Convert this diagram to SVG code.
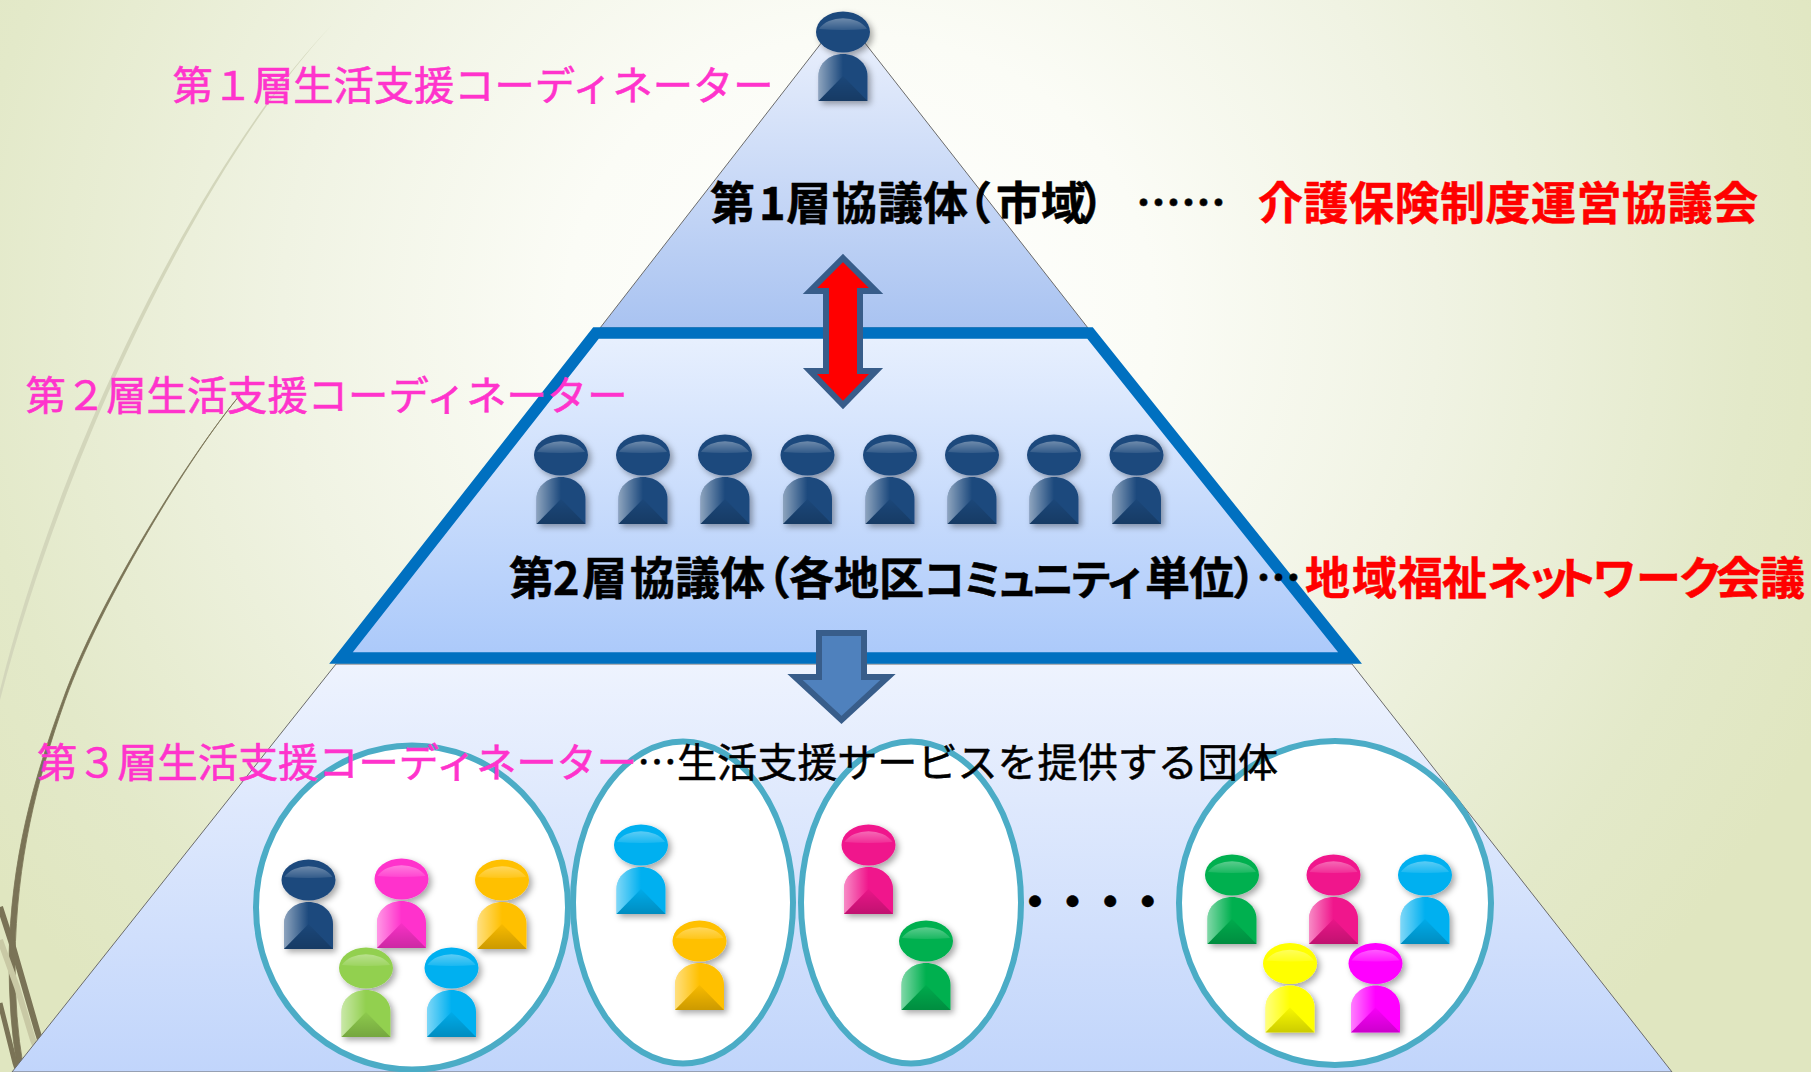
<svg xmlns="http://www.w3.org/2000/svg" width="1811" height="1072" viewBox="0 0 1811 1072">
<style>
.t{font-family:"Noto Sans CJK JP","Noto Sans CJK SC",sans-serif;font-size:40px}
.pk{fill:#ff33cc;stroke:#ff33cc;stroke-width:.6}
.bk{fill:#000}
.th{stroke:#000;stroke-width:.5}
.b{font-weight:700;font-size:45px;stroke-width:.5}
.b.bk{stroke:#000}
.b.rd{stroke:#ff0000}
.kana{font-size:42px}
.rd{fill:#ff0000}
.oval{fill:#fff;stroke:#4bacc6;stroke-width:6}
.arrow{stroke:#385d8a;stroke-width:6;stroke-linejoin:miter;stroke-miterlimit:8}
.navy{color:#1f497d}.mag{color:#ff33cc}.gold{color:#ffc000}.lime{color:#92d050}.cyan{color:#00b0f0}.pink{color:#f0148c}.green{color:#00b050}.yel{color:#ffff00}.fuch{color:#ff00ff}
</style>
<defs>
<radialGradient id="bg" gradientUnits="userSpaceOnUse" cx="860" cy="300" r="1050" gradientTransform="translate(0 30) scale(1 .95)">
<stop offset="0" stop-color="#ffffff"/><stop offset=".28" stop-color="#fbfcf6"/><stop offset=".55" stop-color="#f0f3e3"/><stop offset=".85" stop-color="#e3e9c9"/><stop offset="1" stop-color="#e0e6c0"/>
</radialGradient>
<linearGradient id="g1" x1="0" y1="0" x2="0" y2="1"><stop offset="0" stop-color="#edf2fd"/><stop offset="1" stop-color="#a9c3f1"/></linearGradient>
<linearGradient id="g2" x1="0" y1="0" x2="0" y2="1"><stop offset="0" stop-color="#e8f0fe"/><stop offset="1" stop-color="#abc9fa"/></linearGradient>
<linearGradient id="g3" x1="0" y1="0" x2="0" y2="1"><stop offset="0" stop-color="#eef3fe"/><stop offset="1" stop-color="#c1d5fb"/></linearGradient>
<linearGradient id="hl" x1="0" y1="0" x2="0" y2="1"><stop offset="0" stop-color="#fff" stop-opacity=".36"/><stop offset="1" stop-color="#fff" stop-opacity=".1"/></linearGradient>
<linearGradient id="lf" x1="0" y1="0" x2="1" y2="0"><stop offset="0" stop-color="#fff" stop-opacity=".5"/><stop offset="1" stop-color="#fff" stop-opacity="0"/></linearGradient>
<linearGradient id="dk" x1="0" y1="0" x2="0" y2="1"><stop offset="0" stop-color="#000" stop-opacity=".03"/><stop offset="1" stop-color="#000" stop-opacity=".2"/></linearGradient>
<filter id="sh" x="-30%" y="-20%" width="170%" height="150%"><feDropShadow dx="3" dy="3" stdDeviation="3" flood-color="#000" flood-opacity=".35"/></filter>
<symbol id="person" overflow="visible" width="1" height="1">
<g filter="url(#sh)">
<ellipse cx="0" cy="0" rx="27" ry="20.5" fill="currentColor"/>
<path d="M-24.5 69V44C-24.5 31-13 22 0 22S24.5 31 24.5 44V69Z" fill="currentColor"/>
</g>
<path d="M-24 -3A27 20 0 0 1 24 -3Q0 -1 -24 -3Z" fill="url(#hl)"/>
<path d="M-24.5 69V44C-24.5 31-13 22 0 22L0 44Z" fill="url(#lf)"/>
<path d="M-24.5 69L0 44L24.5 69Z" fill="url(#dk)"/>
</symbol>
</defs>
<rect id="background" width="1811" height="1072" fill="url(#bg)"/>
<g id="strands">
<path d="M332 25C210 150 65 430 0 690L0 700C70 432 212 152 332 25Z" fill="#d3d6bb"/>
<path d="M240 395C190 455 99 599 63 699.500C33.500 779 10.500 860 9 960Q9 1020 17 1065L23 1065Q15 1020 15 960C16.500 860 36.500 781 65 700.500C101 601 190 455 240 395Z" fill="#7a7356" stroke="#7a7356" stroke-width=".8"/>
<path d="M0 940L17 987L33 1040L46 1072" fill="none" stroke="#c9c9a5" stroke-width="6"/>
<path d="M0 907L13 947L37 1030L50 1072" fill="none" stroke="#7a7356" stroke-width="6"/>
<path d="M0 1003L15 1063L18 1072" fill="none" stroke="#7a7356" stroke-width="5"/>
</g>
<g id="pyramid">
<path id="tier1" d="M843 15L600 328H1088Z" fill="url(#g1)" stroke="#6b6b6b" stroke-width="1"/>
<path id="tier3" d="M336 664H1352L1672 1072H12Z" fill="url(#g3)" stroke="#6b6b6b" stroke-width="1"/>
<path id="tier2" d="M596 333H1090L1350 658H341Z" fill="url(#g2)" stroke="#0070c0" stroke-width="11.500"/>
</g>
<g id="connectors">
<path class="arrow" fill="#ff0000" d="M843 258L876 291H860V371H876L843 405L810 371H826V291H810Z"/>
<path class="arrow" fill="#4f81bd" d="M819 633H864V677H888L841.500 720L795 677H819Z"/>
</g>
<g id="oval1"><ellipse class="oval" cx="412" cy="907.500" rx="156" ry="162"/></g>
<g id="oval2"><ellipse class="oval" cx="683" cy="902.500" rx="110" ry="161"/></g>
<g id="oval3"><ellipse class="oval" cx="911" cy="902.500" rx="110" ry="161"/></g>
<g id="oval4"><ellipse class="oval" cx="1335" cy="903" rx="156" ry="162"/></g>
<g id="coordinator1"><use href="#person" class="navy" x="843" y="32"/></g>
<g id="tier2-people">
<use href="#person" class="navy" x="561" y="455"/>
<use href="#person" class="navy" x="643" y="455"/>
<use href="#person" class="navy" x="725" y="455"/>
<use href="#person" class="navy" x="807.500" y="455"/>
<use href="#person" class="navy" x="890" y="455"/>
<use href="#person" class="navy" x="972" y="455"/>
<use href="#person" class="navy" x="1054" y="455"/>
<use href="#person" class="navy" x="1136.500" y="455"/>
</g>
<g id="group1-people">
<use href="#person" class="navy" x="308.500" y="880"/>
<use href="#person" class="mag" x="401.500" y="879"/>
<use href="#person" class="gold" x="502" y="880"/>
<use href="#person" class="lime" x="366" y="968"/>
<use href="#person" class="cyan" x="451.500" y="968"/>
</g>
<g id="group2-people">
<use href="#person" class="cyan" x="641" y="845"/>
<use href="#person" class="gold" x="699.500" y="941"/>
</g>
<g id="group3-people">
<use href="#person" class="pink" x="868.500" y="845"/>
<use href="#person" class="green" x="926" y="941"/>
</g>
<g id="group4-people">
<use href="#person" class="green" x="1232" y="875"/>
<use href="#person" class="pink" x="1333.500" y="875"/>
<use href="#person" class="cyan" x="1425" y="875"/>
<use href="#person" class="yel" x="1290" y="963.500"/>
<use href="#person" class="fuch" x="1375.500" y="963.500"/>
</g>
<g id="labels">
<text class="t pk" x="172.500" y="100" textLength="601" lengthAdjust="spacingAndGlyphs">第１層生活支援コーディネーター</text>
<text class="t pk" x="25.500" y="410" textLength="602" lengthAdjust="spacingAndGlyphs">第２層生活支援コーディネーター</text>
<text class="t pk" x="37" y="777" textLength="600" lengthAdjust="spacingAndGlyphs">第３層生活支援コーディネーター</text>
<text class="t bk th" x="637" y="777" textLength="641" lengthAdjust="spacingAndGlyphs">…生活支援サービスを提供する団体</text>
<text class="t b bk" y="220" x="710 759 786 832 878 923 947 996 1041 1080">第1層協議体（市域）</text>
<text class="t b bk" x="1136" y="220">……</text>
<text class="t b rd" x="1258" y="220" letter-spacing=".5">介護保険制度運営協議会</text>
<text class="t b bk" y="595" x="509 553 582 630 675 720 746 789 834 879">第2層協議体（各地区<tspan class="kana" x="923 962 996 1032 1070 1105">コミュニティ</tspan><tspan x="1145 1189 1232 1256">単位）…</tspan></text>
<text class="t b rd" y="595" x="1305 1352 1398 1442">地域福祉<tspan style="font-size:45px" x="1487 1526 1553 1592 1636 1678">ネットワーク</tspan><tspan x="1716 1760">会議</tspan></text>
<text class="t b bk" x="1012.500" y="919" letter-spacing="-7.400">・・・・</text>
</g>
</svg>
